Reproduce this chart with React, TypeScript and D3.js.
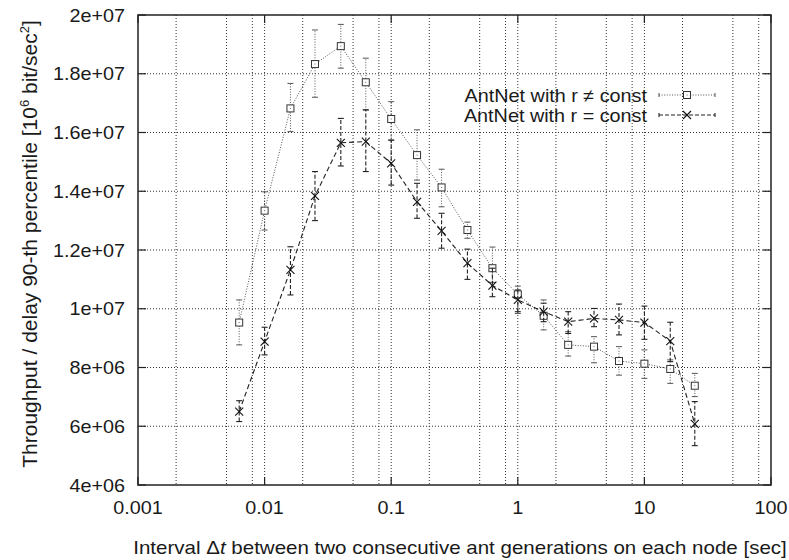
import React from "react";
import * as d3 from "d3";

// ---- data ----
const intervals = [0.0063, 0.01, 0.016, 0.025, 0.04, 0.063, 0.1, 0.16, 0.25, 0.4, 0.63, 1, 1.6, 2.5, 4, 6.3, 10, 16, 25];
// AntNet with r != const (millions)
const varMean = [9.53, 13.34, 16.82, 18.33, 18.94, 17.71, 16.46, 15.23, 14.13, 12.68, 11.38, 10.49, 9.76, 8.77, 8.71, 8.22, 8.13, 7.95, 7.38];
const varLow = [8.77, 12.68, 16.03, 17.2, 18.19, 16.77, 15.74, 14.38, 13.47, 12.4, 10.9, 9.84, 9.28, 8.39, 8.16, 7.74, 7.63, 7.46, 7.01];
const varHigh = [10.3, 13.98, 17.67, 19.49, 19.68, 18.53, 17.05, 16.09, 14.75, 12.95, 12.1, 10.77, 10.3, 9.22, 9.05, 8.71, 8.6, 8.26, 7.8];
// AntNet with r = const (millions)
const constMean = [6.5, 8.88, 11.32, 13.84, 15.65, 15.69, 14.95, 13.64, 12.65, 11.55, 10.79, 10.3, 9.9, 9.56, 9.67, 9.62, 9.53, 8.9, 6.08];
const constLow = [6.16, 8.43, 10.47, 13.0, 14.86, 14.67, 14.21, 13.08, 12.06, 11.0, 10.41, 9.9, 9.56, 9.16, 9.39, 9.11, 8.96, 8.2, 5.34];
const constHigh = [6.87, 9.37, 12.11, 14.67, 16.48, 16.77, 15.74, 14.27, 13.25, 12.03, 11.38, 10.64, 10.19, 9.9, 10.01, 10.16, 10.09, 9.54, 6.84];

const xTicks = [0.001, 0.01, 0.1, 1, 10, 100];
const xTickLabels = ["0.001", "0.01", "0.1", "1", "10", "100"];
const xGridMinor = [2, 5, 8];
const yTicks = [4e6, 6e6, 8e6, 1e7, 1.2e7, 1.4e7, 1.6e7, 1.8e7, 2e7];
const yTickLabels = ["4e+06", "6e+06", "8e+06", "1e+07", "1.2e+07", "1.4e+07", "1.6e+07", "1.8e+07", "2e+07"];
const legendLabels = ["AntNet with r \u2260 const", "AntNet with r = const"];

const W = 789, H = 560;
const L = 138, R = 771, T = 15, B = 485;
const FONT = "'Liberation Sans', Arial, Helvetica, sans-serif";

function T2({ x, y, anchor, children, rotate, sx = 1.1, fs = 18 }: any) {
  return (
    <text
      transform={`translate(${x},${y}) scale(${sx},1)${rotate ? ` rotate(${rotate})` : ""}`}
      textAnchor={anchor}
      fontFamily={FONT}
      fontSize={fs}
      fill="#1a1a1a"
    >
      {children}
    </text>
  );
}

export default function App() {
  const x = d3.scaleLog().domain([0.001, 100]).range([L, R]);
  const y = d3.scaleLinear().domain([4e6, 2e7]).range([B, T]);
  const line = d3.line<[number, number]>().x((d) => x(d[0])).y((d) => y(d[1]));

  const varPts: [number, number][] = intervals.map((t, i) => [t, varMean[i] * 1e6]);
  const constPts: [number, number][] = intervals.map((t, i) => [t, constMean[i] * 1e6]);

  const gridX: number[] = [];
  for (let e = -3; e < 2; e++) {
    const base = Math.pow(10, e);
    if (e > -3) gridX.push(base);
    xGridMinor.forEach((m) => gridX.push(m * base));
  }

  const gridStyle = { stroke: "#333", strokeWidth: 1, strokeDasharray: "1,2" };
  const s1 = { stroke: "#555", strokeWidth: 1, strokeDasharray: "1,1.6", fill: "none" };
  const s2 = { stroke: "#222", strokeWidth: 1.1, strokeDasharray: "5,3", fill: "none" };

  const square = (cx: number, cy: number, k: string) => (
    <g key={k}>
      <rect x={cx - 3.5} y={cy - 3.5} width={7} height={7} fill="white" stroke="#333" strokeWidth={1} />
      <rect x={cx - 0.5} y={cy - 0.5} width={1} height={1} fill="#666" />
    </g>
  );
  const cross = (cx: number, cy: number, k: string) => (
    <g key={k} stroke="#111" strokeWidth={1.1}>
      <line x1={cx - 4} y1={cy - 4} x2={cx + 4} y2={cy + 4} />
      <line x1={cx - 4} y1={cy + 4} x2={cx + 4} y2={cy - 4} />
    </g>
  );

  const errBars = (lo: number[], hi: number[], style: any, k: string) =>
    intervals.map((t, i) => {
      const cx = x(t);
      const y1 = y(lo[i] * 1e6), y2 = y(hi[i] * 1e6);
      return (
        <g key={k + i}>
          <line x1={cx} y1={y1} x2={cx} y2={y2} style={style} />
          <line x1={cx - 3} y1={y1} x2={cx + 3} y2={y1} style={{ ...style, strokeDasharray: "none" }} />
          <line x1={cx - 3} y1={y2} x2={cx + 3} y2={y2} style={{ ...style, strokeDasharray: "none" }} />
        </g>
      );
    });

  const lgX1 = 659, lgX2 = 715, lgM = 687;
  const lgY = [95, 115];

  return (
    <svg width={W} height={H} style={{ position: "absolute", left: 0, top: 0, background: "white" }}>
      <rect x={0} y={0} width={W} height={H} fill="white" />
      {/* grid */}
      {gridX.map((g, i) => (
        <line key={"gx" + i} x1={x(g)} x2={x(g)} y1={T} y2={B} style={gridStyle} />
      ))}
      {yTicks.slice(1, -1).map((g, i) => (
        <line key={"gy" + i} x1={L} x2={R} y1={y(g)} y2={y(g)} style={gridStyle} />
      ))}
      {/* ticks */}
      {yTicks.map((g, i) => (
        <g key={"ty" + i} stroke="#222" strokeWidth={1.2}>
          <line x1={L} x2={L + 8} y1={y(g)} y2={y(g)} />
          <line x1={R} x2={R - 8} y1={y(g)} y2={y(g)} />
        </g>
      ))}
      {xTicks.map((g, i) => (
        <g key={"tx" + i} stroke="#222" strokeWidth={1.2}>
          <line x1={x(g)} x2={x(g)} y1={B} y2={B - 8} />
          <line x1={x(g)} x2={x(g)} y1={T} y2={T + 8} />
        </g>
      ))}
      {/* frame */}
      <rect x={L} y={T} width={R - L} height={B - T} fill="none" stroke="#222" strokeWidth={1.5} />

      {/* series r != const */}
      <path d={line(varPts) || ""} style={s1} />
      {errBars(varLow, varHigh, s1, "e1")}
      {varPts.map((p, i) => square(x(p[0]), y(p[1]), "s" + i))}

      {/* series r = const */}
      <path d={line(constPts) || ""} style={s2} />
      {errBars(constLow, constHigh, { ...s2, strokeDasharray: "4,2" }, "e2")}
      {constPts.map((p, i) => cross(x(p[0]), y(p[1]), "c" + i))}

      {/* tick labels */}
      {yTicks.map((g, i) => (
        <T2 key={"ly" + i} x={125} y={y(g) + 6.5} anchor="end">{yTickLabels[i]}</T2>
      ))}
      {xTicks.map((g, i) => (
        <T2 key={"lx" + i} x={x(g)} y={513.5} anchor="middle">{xTickLabels[i]}</T2>
      ))}

      {/* axis titles */}
      <T2 x={460} y={553.5} anchor="middle" sx={1.14}>
        Interval {"\u0394"}<tspan fontStyle="italic">t</tspan> between two consecutive ant generations on each node [sec]
      </T2>
      <T2 x={37} y={244} anchor="middle" rotate={-90} sx={1} fs={21}>
        Throughput / delay 90-th percentile [10<tspan fontSize={13} dy={-8}>6</tspan>
        <tspan dy={8}> bit/sec</tspan>
        <tspan fontSize={13} dy={-8}>2</tspan>
        <tspan dy={8}>]</tspan>
      </T2>

      {/* legend */}
      <T2 x={647} y={101.5} anchor="end">{legendLabels[0]}</T2>
      <T2 x={647} y={121.5} anchor="end">{legendLabels[1]}</T2>
      <line x1={lgX1} x2={lgX2} y1={lgY[0]} y2={lgY[0]} style={s1} />
      <line x1={lgX1} x2={lgX1} y1={lgY[0] - 2} y2={lgY[0] + 2} style={{ ...s1, strokeDasharray: "none" }} />
      <line x1={lgX2} x2={lgX2} y1={lgY[0] - 2} y2={lgY[0] + 2} style={{ ...s1, strokeDasharray: "none" }} />
      {square(lgM, lgY[0], "lgs")}
      <line x1={lgX1} x2={lgX2} y1={lgY[1]} y2={lgY[1]} style={{ ...s2, strokeDasharray: "4,2" }} />
      <line x1={lgX1} x2={lgX1} y1={lgY[1] - 2} y2={lgY[1] + 2} style={{ ...s2, strokeDasharray: "none" }} />
      <line x1={lgX2} x2={lgX2} y1={lgY[1] - 2} y2={lgY[1] + 2} style={{ ...s2, strokeDasharray: "none" }} />
      {cross(lgM, lgY[1], "lgc")}
    </svg>
  );
}
